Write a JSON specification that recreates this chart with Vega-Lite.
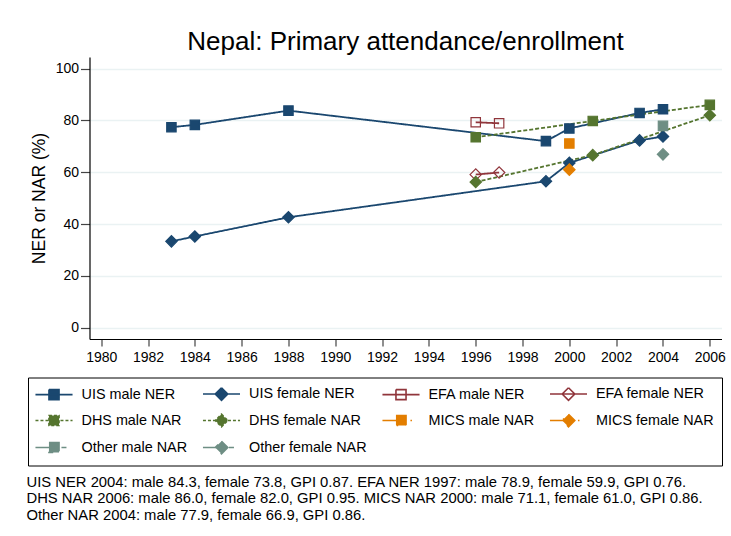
{
  "$schema": "https://vega.github.io/schema/vega-lite/v6.json",
  "autosize": {"type": "none"},
  "width": 632,
  "height": 282,
  "padding": {"left": 89.5, "top": 57, "right": 9.5, "bottom": 197},
  "background": "white",
  "title": {
    "text": "Nepal: Primary attendance/enrollment",
    "font": "Liberation Sans",
    "fontSize": 26,
    "fontWeight": "normal",
    "color": "black",
    "anchor": "middle",
    "offset": 2
  },
  "data": {
    "values": [
      {"series": "UIS male NER", "sex": "male", "year": 1983, "value": 77.4},
      {"series": "UIS male NER", "sex": "male", "year": 1984, "value": 78.3},
      {"series": "UIS male NER", "sex": "male", "year": 1988, "value": 83.8},
      {"series": "UIS male NER", "sex": "male", "year": 1999, "value": 72.0},
      {"series": "UIS male NER", "sex": "male", "year": 2000, "value": 76.9},
      {"series": "UIS male NER", "sex": "male", "year": 2003, "value": 82.9},
      {"series": "UIS male NER", "sex": "male", "year": 2004, "value": 84.3},
      {"series": "UIS female NER", "sex": "female", "year": 1983, "value": 33.3},
      {"series": "UIS female NER", "sex": "female", "year": 1984, "value": 35.2},
      {"series": "UIS female NER", "sex": "female", "year": 1988, "value": 42.6},
      {"series": "UIS female NER", "sex": "female", "year": 1999, "value": 56.5},
      {"series": "UIS female NER", "sex": "female", "year": 2000, "value": 63.6},
      {"series": "UIS female NER", "sex": "female", "year": 2003, "value": 72.3},
      {"series": "UIS female NER", "sex": "female", "year": 2004, "value": 73.8},
      {"series": "EFA male NER", "sex": "male", "year": 1996, "value": 79.3},
      {"series": "EFA male NER", "sex": "male", "year": 1997, "value": 78.9},
      {"series": "EFA female NER", "sex": "female", "year": 1996, "value": 59.1},
      {"series": "EFA female NER", "sex": "female", "year": 1997, "value": 59.9},
      {"series": "DHS male NAR", "sex": "male", "year": 1996, "value": 73.5},
      {"series": "DHS male NAR", "sex": "male", "year": 2001, "value": 79.8},
      {"series": "DHS male NAR", "sex": "male", "year": 2006, "value": 86.0},
      {"series": "DHS female NAR", "sex": "female", "year": 1996, "value": 56.2},
      {"series": "DHS female NAR", "sex": "female", "year": 2001, "value": 66.6},
      {"series": "DHS female NAR", "sex": "female", "year": 2006, "value": 82.0},
      {"series": "MICS male NAR", "sex": "male", "year": 2000, "value": 71.1},
      {"series": "MICS female NAR", "sex": "female", "year": 2000, "value": 61.0},
      {"series": "Other male NAR", "sex": "male", "year": 2004, "value": 77.9},
      {"series": "Other female NAR", "sex": "female", "year": 2004, "value": 66.9}
    ]
  },
  "encoding": {
    "x": {
      "field": "year",
      "type": "quantitative",
      "scale": {"domain": [1979.5, 2006.5], "nice": false, "zero": false},
      "axis": {
        "values": [1980, 1982, 1984, 1986, 1988, 1990, 1992, 1994, 1996, 1998, 2000, 2002, 2004, 2006],
        "format": "d",
        "grid": false,
        "tickSize": 7,
        "labelPadding": 4,
        "labelFontSize": 14,
        "title": [
          "UIS NER 2004: male 84.3, female 73.8, GPI 0.87. EFA NER 1997: male 78.9, female 59.9, GPI 0.76.",
          "DHS NAR 2006: male 86.0, female 82.0, GPI 0.95. MICS NAR 2000: male 71.1, female 61.0, GPI 0.86.",
          "Other NAR 2004: male 77.9, female 66.9, GPI 0.86."
        ],
        "titleAnchor": "start",
        "titleAlign": "left",
        "titleBaseline": "top",
        "titleX": -63.5,
        "titleY": 135,
        "titleFontSize": 14.8,
        "titleLineHeight": 16.5,
        "titleFontWeight": "normal"
      }
    },
    "y": {
      "field": "value",
      "type": "quantitative",
      "scale": {"domain": [-4.4, 104.5], "nice": false, "zero": false},
      "axis": {
        "values": [0, 20, 40, 60, 80, 100],
        "grid": true,
        "tickSize": 9,
        "labelPadding": 2,
        "labelFontSize": 14,
        "title": "NER or NAR (%)",
        "titleFontSize": 17.5,
        "titleFontWeight": "normal",
        "titlePadding": 7
      }
    }
  },
  "layer": [
    {
      "transform": [
        {"filter": {"field": "series", "oneOf": ["UIS male NER", "UIS female NER", "EFA male NER", "EFA female NER", "DHS male NAR", "DHS female NAR"]}}
      ],
      "mark": {"type": "line", "strokeWidth": 1.8},
      "encoding": {
        "color": {
          "field": "series",
          "type": "nominal",
          "scale": {
            "domain": ["UIS male NER", "UIS female NER", "EFA male NER", "EFA female NER", "DHS male NAR", "DHS female NAR", "MICS male NAR", "MICS female NAR", "Other male NAR", "Other female NAR"],
            "range": ["#1a476f", "#1a476f", "#90353b", "#90353b", "#55752f", "#55752f", "#e37e00", "#e37e00", "#6e8e84", "#6e8e84"]
          },
          "legend": {
            "title": null,
            "orient": "none",
            "legendX": -61.5,
            "legendY": 320.5,
            "columns": 4,
            "direction": "horizontal",
            "strokeColor": "black",
            "padding": 7.5,
            "columnPadding": 11.5,
            "rowPadding": 6,
            "symbolSize": 220,
            "symbolOffset": 10,
            "labelOffset": 19,
            "labelFontSize": 14.4,
            "labelLimit": 0,
            "encode": {
              "symbols": {
                "update": {
                  "shape": {"signal": "test(/female/, datum.value) ? 'M-2.5,0L2.5,0M0,-0.85L0.85,0L0,0.85L-0.85,0Z' : 'M-2.5,0L2.5,0M-0.68,-0.68L0.68,-0.68L0.68,0.68L-0.68,0.68Z'"},
                  "fill": {"signal": "test(/EFA/, datum.value) ? 'transparent' : scale('color', datum.value)"},
                  "stroke": {"signal": "scale('color', datum.value)"},
                  "strokeDash": {"signal": "test(/DHS/, datum.value) ? [3, 2] : test(/MICS/, datum.value) ? [20, 8, 1.5, 12] : test(/Other/, datum.value) ? [19, 7, 5, 12] : [100, 0]"},
                  "strokeWidth": {"value": 1.6},
                  "size": {"value": 220},
                  "opacity": {"value": 1}
                }
              }
            }
          }
        },
        "strokeDash": {
          "field": "series",
          "type": "nominal",
          "scale": {
            "domain": ["UIS male NER", "UIS female NER", "EFA male NER", "EFA female NER", "DHS male NAR", "DHS female NAR"],
            "range": [[1, 0], [1, 0], [1, 0], [1, 0], [4, 2], [4, 2]]
          },
          "legend": null
        },
        "detail": {"field": "series"}
      }
    },
    {
      "mark": {"type": "point", "filled": true, "strokeWidth": 1.2, "opacity": 1},
      "encoding": {
        "shape": {
          "field": "sex",
          "type": "nominal",
          "scale": {"domain": ["male", "female"], "range": ["square", "diamond"]},
          "legend": null
        },
        "size": {
          "field": "sex",
          "type": "nominal",
          "scale": {"domain": ["male", "female"], "range": [88, 130]},
          "legend": null
        },
        "fill": {
          "field": "series",
          "type": "nominal",
          "scale": {
            "domain": ["UIS male NER", "UIS female NER", "EFA male NER", "EFA female NER", "DHS male NAR", "DHS female NAR", "MICS male NAR", "MICS female NAR", "Other male NAR", "Other female NAR"],
            "range": ["#1a476f", "#1a476f", "transparent", "transparent", "#55752f", "#55752f", "#e37e00", "#e37e00", "#6e8e84", "#6e8e84"]
          },
          "legend": null
        },
        "stroke": {
          "field": "series",
          "type": "nominal",
          "scale": {
            "domain": ["UIS male NER", "UIS female NER", "EFA male NER", "EFA female NER", "DHS male NAR", "DHS female NAR", "MICS male NAR", "MICS female NAR", "Other male NAR", "Other female NAR"],
            "range": ["#1a476f", "#1a476f", "#90353b", "#90353b", "#55752f", "#55752f", "#e37e00", "#e37e00", "#6e8e84", "#6e8e84"]
          },
          "legend": null
        }
      }
    }
  ],
  "config": {
    "font": "Liberation Sans",
    "view": {"stroke": null},
    "axis": {
      "domainColor": "black",
      "domainWidth": 1.2,
      "tickColor": "#444",
      "tickWidth": 1.2,
      "labelColor": "black",
      "titleColor": "black",
      "labelFont": "Liberation Sans",
      "titleFont": "Liberation Sans",
      "gridColor": "#eaf2f3",
      "gridWidth": 1.6
    },
    "legend": {
      "labelFont": "Liberation Sans",
      "labelColor": "black"
    }
  }
}
